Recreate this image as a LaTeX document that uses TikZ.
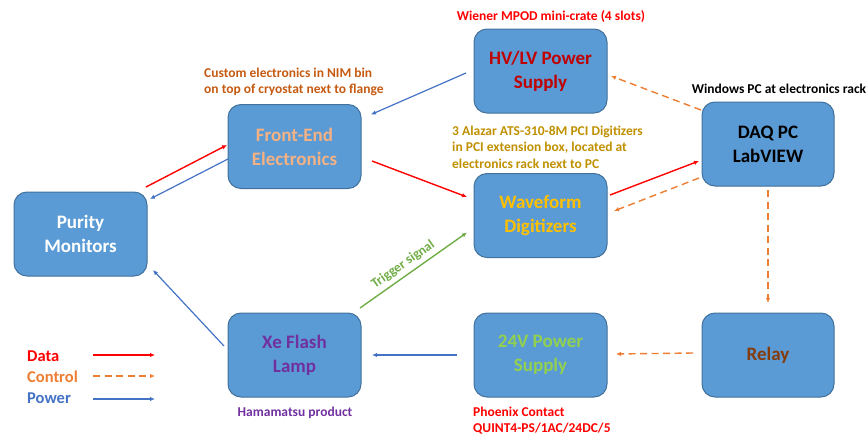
\documentclass[tikz,border=0pt]{standalone}
\usepackage{fontspec}
\setmainfont{Carlito}
\usepackage{xcolor}
\usepackage{tikz}
\usetikzlibrary{arrows.meta,positioning}

\definecolor{boxfill}{HTML}{5B9BD5}
\definecolor{boxline}{HTML}{41719C}
\definecolor{datared}{HTML}{FF0000}
\definecolor{ctrlorange}{HTML}{ED7D31}
\definecolor{powerblue}{HTML}{4472C4}
\definecolor{trigreen}{HTML}{70AD47}
\definecolor{feorange}{HTML}{F4B183}
\definecolor{hvred}{HTML}{C00000}
\definecolor{wfgold}{HTML}{FFC000}
\definecolor{xepurple}{HTML}{7030A0}
\definecolor{psgreen}{HTML}{92D050}
\definecolor{relaybrown}{HTML}{843C0C}
\definecolor{nimorange}{HTML}{C55A11}
\definecolor{alazargold}{HTML}{BF9000}

\begin{document}
\begin{tikzpicture}[
    x=1pt, y=-1pt,
    block/.style={rectangle, draw=boxline, line width=1pt, fill=boxfill, rounded corners=13pt, minimum width=133pt, minimum height=84pt, inner sep=0pt, outer sep=0pt, align=center, font=\fontsize{19}{24}\selectfont\bfseries},
    note/.style={inner sep=0pt, align=left, font=\fontsize{13.5}{16.3}\selectfont\bfseries},
    legend/.style={inner sep=0pt, anchor=base west, font=\fontsize{16.5}{18}\selectfont\bfseries},
    data/.style={-{Latex[length=5pt,width=4.5pt]}, line width=1.4pt, datared},
    control/.style={-{Latex[length=5pt,width=4.5pt]}, line width=1.4pt, ctrlorange, dash pattern=on 7pt off 4.5pt},
    power/.style={-{Latex[length=5pt,width=4.5pt]}, line width=1.2pt, powerblue},
    trigger/.style={-{Latex[length=5pt,width=4.5pt]}, line width=1.4pt, trigreen},
]
    \useasboundingbox (0,0) rectangle (868,437);

    \node[block, text=white] (pm) at (80.5,234) {Purity\\Monitors};
    \node[block, text=feorange] (fe) at (294.5,146.5) {Front-End\\Electronics};
    \node[block, text=hvred] (hv) at (540.5,71) {HV/LV Power\\Supply};
    \node[block, text=wfgold] (wf) at (540.5,215.5) {Waveform\\Digitizers};
    \node[block, text=black, minimum width=132pt] (daq) at (768,144) {DAQ PC\\LabVIEW};
    \node[block, text=xepurple] (xe) at (294.5,355) {Xe Flash\\Lamp};
    \node[block, text=psgreen] (ps) at (540.5,355) {24V Power\\Supply};
    \node[block, text=relaybrown, minimum width=132pt] (rl) at (768,355) {Relay};

    \node[note, anchor=north west, text=nimorange] (nimnote) at (204,68) {Custom electronics in NIM bin\\on top of cryostat next to flange};
    \node[note, anchor=base, text=datared] (hvnote) at (551,20) {Wiener MPOD mini-crate (4 slots)};
    \node[note, anchor=base, text=black] (daqnote) at (779,93) {Windows PC at electronics rack};
    \node[note, anchor=north west, text=alazargold] (wfnote) at (452,126) {3 Alazar ATS-310-8M PCI Digitizers\\in PCI extension box, located at\\electronics rack next to PC};
    \node[note, anchor=base, text=xepurple] (xenote) at (295,416) {Hamamatsu product};
    \node[note, anchor=north west, text=datared] (psnote) at (473,407) {Phoenix Contact\\QUINT4-PS/1AC/24DC/5};

    \draw[data] ([xshift=-1pt,yshift=5pt]pm.north east) -- ([xshift=-1pt,yshift=1.5pt]fe.west);
    \draw[power] ([yshift=-12.5pt]fe.west) -- ([xshift=3pt,yshift=-7pt]pm.north east);
    \draw[data] ([xshift=11pt,yshift=-14.5pt]fe.east) -- ([xshift=-7pt,yshift=18.5pt]wf.west);
    \draw[power] ([xshift=-8pt,yshift=-2pt]hv.west) -- ([xshift=10pt,yshift=-10pt]fe.north east);
    \draw[control] ([xshift=-1pt,yshift=-8pt]daq.north west) -- ([xshift=4pt,yshift=-5pt]hv.east);
    \draw[data] ([xshift=3pt,yshift=20.5pt]wf.east) -- ([xshift=-3pt,yshift=-17pt]daq.west);
    \draw[control] ([xshift=-3pt,yshift=8pt]daq.south west) -- ([xshift=7pt,yshift=4.5pt]wf.east);
    \draw[control] ([yshift=-4pt]daq.south) -- ([yshift=10pt]rl.north);
    \draw[control] ([xshift=-9pt,yshift=2pt]rl.west) -- ([xshift=9pt,yshift=1pt]ps.east);
    \draw[power] ([xshift=-17pt]ps.west) -- ([xshift=11pt]xe.east);
    \draw[power] ([xshift=-4pt,yshift=9pt]xe.west) -- ([xshift=6pt,yshift=6pt]pm.south east);
    \draw[trigger] ([xshift=-1pt,yshift=5pt]xe.north east) -- node[sloped, above=4pt, pos=0.46, inner sep=0pt, font=\fontsize{13.5}{15}\selectfont\bfseries, text=trigreen] (trig) {Trigger signal} ([xshift=-7pt,yshift=25pt]wf.south west);

    \node[legend, text=datared] (ldata) at (27,361) {Data};
    \node[legend, text=ctrlorange] (lctrl) at (27,382) {Control};
    \node[legend, text=powerblue] (lpower) at (27,403) {Power};
    \coordinate (ldata-a) at (93,355);
    \coordinate (ldata-b) at (155,355);
    \coordinate (lctrl-a) at (93,376);
    \coordinate (lctrl-b) at (155,376);
    \coordinate (lpower-a) at (93,399);
    \coordinate (lpower-b) at (155,399);
    \draw[data] (ldata-a) -- (ldata-b);
    \draw[control] (lctrl-a) -- (lctrl-b);
    \draw[power] (lpower-a) -- (lpower-b);
\end{tikzpicture}
\end{document}
